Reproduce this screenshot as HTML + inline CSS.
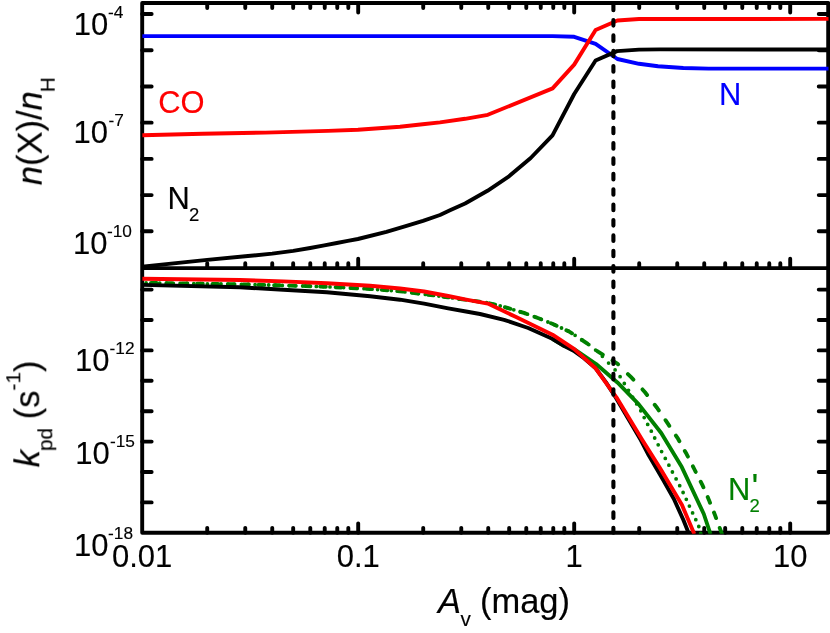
<!DOCTYPE html>
<html><head><meta charset="utf-8"><title>chart</title>
<style>html,body{margin:0;padding:0;background:#fff;}svg{display:block;}text{font-family:"Liberation Sans", sans-serif;}</style>
</head><body>
<svg width="830" height="633" viewBox="0 0 830 633">
<rect width="830" height="633" fill="#fff"/>
<defs>
<clipPath id="ct"><rect x="142.2" y="0" width="687.8" height="268.1"/></clipPath>
<clipPath id="cb"><rect x="142.2" y="268.1" width="687.8" height="265.5999999999999"/></clipPath>
</defs>
<path d="M207.22 3.05L207.22 8.00M207.22 268.10L207.22 263.15M207.22 532.80L207.22 527.85M245.26 3.05L245.26 8.00M245.26 268.10L245.26 263.15M245.26 532.80L245.26 527.85M272.24 3.05L272.24 8.00M272.24 268.10L272.24 263.15M272.24 532.80L272.24 527.85M293.18 3.05L293.18 8.00M293.18 268.10L293.18 263.15M293.18 532.80L293.18 527.85M310.28 3.05L310.28 8.00M310.28 268.10L310.28 263.15M310.28 532.80L310.28 527.85M324.74 3.05L324.74 8.00M324.74 268.10L324.74 263.15M324.74 532.80L324.74 527.85M337.27 3.05L337.27 8.00M337.27 268.10L337.27 263.15M337.27 532.80L337.27 527.85M348.32 3.05L348.32 8.00M348.32 268.10L348.32 263.15M348.32 532.80L348.32 527.85M358.20 3.05L358.20 12.50M358.20 268.10L358.20 258.65M358.20 532.80L358.20 523.35M423.22 3.05L423.22 8.00M423.22 268.10L423.22 263.15M423.22 532.80L423.22 527.85M461.26 3.05L461.26 8.00M461.26 268.10L461.26 263.15M461.26 532.80L461.26 527.85M488.24 3.05L488.24 8.00M488.24 268.10L488.24 263.15M488.24 532.80L488.24 527.85M509.18 3.05L509.18 8.00M509.18 268.10L509.18 263.15M509.18 532.80L509.18 527.85M526.28 3.05L526.28 8.00M526.28 268.10L526.28 263.15M526.28 532.80L526.28 527.85M540.74 3.05L540.74 8.00M540.74 268.10L540.74 263.15M540.74 532.80L540.74 527.85M553.27 3.05L553.27 8.00M553.27 268.10L553.27 263.15M553.27 532.80L553.27 527.85M564.32 3.05L564.32 8.00M564.32 268.10L564.32 263.15M564.32 532.80L564.32 527.85M574.20 3.05L574.20 12.50M574.20 268.10L574.20 258.65M574.20 532.80L574.20 523.35M639.22 3.05L639.22 8.00M639.22 268.10L639.22 263.15M639.22 532.80L639.22 527.85M677.26 3.05L677.26 8.00M677.26 268.10L677.26 263.15M677.26 532.80L677.26 527.85M704.24 3.05L704.24 8.00M704.24 268.10L704.24 263.15M704.24 532.80L704.24 527.85M725.18 3.05L725.18 8.00M725.18 268.10L725.18 263.15M725.18 532.80L725.18 527.85M742.28 3.05L742.28 8.00M742.28 268.10L742.28 263.15M742.28 532.80L742.28 527.85M756.74 3.05L756.74 8.00M756.74 268.10L756.74 263.15M756.74 532.80L756.74 527.85M769.27 3.05L769.27 8.00M769.27 268.10L769.27 263.15M769.27 532.80L769.27 527.85M780.32 3.05L780.32 8.00M780.32 268.10L780.32 263.15M780.32 532.80L780.32 527.85M790.20 3.05L790.20 12.50M790.20 268.10L790.20 258.65M790.20 532.80L790.20 523.35M142.20 14.00L151.65 14.00M828.20 14.00L818.75 14.00M142.20 50.22L151.65 50.22M828.20 50.22L818.75 50.22M142.20 86.44L151.65 86.44M828.20 86.44L818.75 86.44M142.20 122.66L151.65 122.66M828.20 122.66L818.75 122.66M142.20 158.88L151.65 158.88M828.20 158.88L818.75 158.88M142.20 195.10L151.65 195.10M828.20 195.10L818.75 195.10M142.20 231.32L151.65 231.32M828.20 231.32L818.75 231.32M142.20 502.40L151.65 502.40M828.20 502.40L818.75 502.40M142.20 472.00L151.65 472.00M828.20 472.00L818.75 472.00M142.20 441.60L151.65 441.60M828.20 441.60L818.75 441.60M142.20 411.20L151.65 411.20M828.20 411.20L818.75 411.20M142.20 380.80L151.65 380.80M828.20 380.80L818.75 380.80M142.20 350.40L151.65 350.40M828.20 350.40L818.75 350.40M142.20 320.00L151.65 320.00M828.20 320.00L818.75 320.00M142.20 289.60L151.65 289.60M828.20 289.60L818.75 289.60" stroke="#000" stroke-width="3.9" stroke-linecap="round" fill="none"/>
<rect x="142.2" y="3.05" width="686.0" height="529.75" fill="none" stroke="#000" stroke-width="3.9" stroke-linejoin="round"/>
<line x1="142.2" y1="268.1" x2="828.2" y2="268.1" stroke="#000" stroke-width="3.9"/>
<polyline points="142.2,36.1 552.6,36.1 574.2,36.8 595.6,43.9 617.4,59.0 639.0,63.8 658.0,66.3 683.3,68.0 708.6,68.6 828.5,68.6" fill="none" stroke="#0000ff" stroke-width="3.9" stroke-linejoin="round" clip-path="url(#ct)" />
<polyline points="142.2,266.6 207.2,259.9 245.3,256.3 272.2,253.6 293.2,250.9 310.2,248.0 324.3,245.3 336.8,243.0 347.8,240.9 357.9,239.0 386.4,231.8 405.7,226.2 423.0,220.8 440.0,215.0 450.0,210.3 465.1,203.5 487.5,190.8 509.0,176.3 530.7,158.0 552.5,135.3 574.2,94.0 595.6,60.5 617.0,51.1 639.0,49.6 660.0,49.4 828.5,49.5" fill="none" stroke="#000" stroke-width="3.9" stroke-linejoin="round" clip-path="url(#ct)" />
<polyline points="142.2,135.2 202.7,133.8 265.3,132.6 328.0,130.9 358.0,129.8 400.0,126.8 422.7,124.3 440.0,122.4 465.1,118.8 487.8,114.8 552.6,88.4 574.2,64.6 595.6,30.0 617.4,20.5 639.0,19.0 828.5,18.9" fill="none" stroke="#ff0000" stroke-width="3.9" stroke-linejoin="round" clip-path="url(#ct)" />
<path d="M151.0 282.9L156.6 283.0M166.4 283.2L172.0 283.3M181.8 283.4L187.4 283.5M197.2 283.6L202.8 283.7M212.5 283.9L218.1 284.0M227.9 284.1L233.5 284.2M243.3 284.4L248.9 284.5M258.7 284.8L264.3 284.9M274.1 285.2L279.7 285.3M289.5 285.6L295.1 285.7M304.8 286.0L310.4 286.2M320.2 286.5L325.8 286.7M335.6 287.2L341.2 287.5M351.0 288.0L356.6 288.3M366.4 288.8L370.1 289.0L372.0 289.1M381.8 289.9L387.4 290.3M397.2 291.1L400.0 291.3L402.8 291.6M412.5 292.8L418.1 293.5M427.9 294.7L433.5 295.4M443.3 296.7L448.0 297.3L448.9 297.4M458.7 298.8L464.3 299.6M474.1 300.9L479.7 301.7M489.5 303.3L495.1 304.7M504.9 307.2L508.3 308.1L510.5 308.8M520.2 311.8L524.0 312.9L525.8 313.6M535.6 317.2L537.8 318.0L541.2 319.3M551.0 323.2L552.3 323.7L556.6 325.7M566.4 330.3L569.2 331.6L572.0 333.3M581.8 339.8L587.4 343.7M597.2 351.1L602.8 354.6M612.5 360.6L617.4 363.6L618.1 364.3M627.9 374.1L631.1 377.2L633.4 379.6M642.5 389.4L645.0 392.3L647.1 395.0M654.7 404.8L657.2 408.0L658.8 410.4M665.5 420.2L667.7 423.4L669.3 425.8M675.9 435.6L678.0 438.7L679.4 441.2M684.8 451.0L686.6 454.1L687.9 456.6M692.9 466.3L694.5 469.5L695.7 471.9M700.7 481.7L702.3 484.8L703.4 487.3M707.7 497.1L708.9 499.9L710.0 502.7M714.0 512.5L715.2 515.6L716.1 518.1M719.7 527.9L721.8 533.5" fill="none" stroke="#008000" stroke-width="3.9" stroke-linecap="round" stroke-linejoin="round" clip-path="url(#cb)"/>
<path d="M146.1 282.9L146.1 282.9M152.9 283.0L152.9 283.0M159.7 283.1L159.7 283.1M166.5 283.2L166.5 283.2M173.3 283.3L173.3 283.3M180.1 283.4L180.2 283.4M187.0 283.5L187.0 283.5M193.8 283.6L193.8 283.6M200.6 283.7L200.6 283.7M207.4 283.8L207.4 283.8M214.2 283.9L214.2 283.9M221.0 284.0L221.0 284.0M227.8 284.1L227.8 284.1M234.6 284.2L234.6 284.2M241.4 284.3L241.4 284.3M248.2 284.5L248.3 284.5M255.1 284.7L255.1 284.7M261.9 284.9L261.9 284.9M268.7 285.0L268.7 285.0M275.5 285.2L275.5 285.2M282.3 285.4L282.3 285.4M289.1 285.6L289.1 285.6M295.9 285.8L295.9 285.8M302.7 286.0L302.7 286.0M309.5 286.2L309.5 286.2M316.3 286.4L316.4 286.4M323.2 286.6L323.2 286.6M330.0 286.9L330.0 286.9M336.8 287.2L336.8 287.2M343.6 287.6L343.6 287.6M350.4 288.0L350.4 288.0M357.2 288.3L357.2 288.3M364.0 288.7L364.0 288.7M370.8 289.1L370.8 289.1M377.6 289.6L377.6 289.6M384.4 290.1L384.5 290.1M391.3 290.6L391.3 290.6M398.1 291.2L398.1 291.2M404.9 291.9L404.9 291.9M411.7 292.7L411.7 292.7M418.5 293.5L418.5 293.5M425.3 294.4L425.3 294.4M432.1 295.2L432.1 295.2M438.9 296.1L438.9 296.1M445.7 297.0L445.7 297.0M452.5 297.9L452.6 297.9M459.4 298.9L459.4 298.9M466.2 299.8L466.2 299.8M473.0 300.8L473.0 300.8M479.8 301.8L479.8 301.8M486.6 302.7L486.6 302.7M493.4 304.3L493.4 304.3M500.2 306.0L500.2 306.1M507.0 307.8L507.0 307.8M513.8 309.8L513.8 309.8M520.6 311.9L520.7 311.9M527.5 314.2L527.5 314.2M534.3 316.7L534.3 316.7M541.1 319.3L541.1 319.3M547.9 322.0L547.9 322.0M554.7 324.8L554.7 324.8M561.5 328.0L561.5 328.0M568.3 331.2L568.3 331.2M575.1 335.3L575.1 335.3M581.9 339.9L581.9 339.9M588.7 344.6L588.8 344.6M595.6 350.1L595.6 350.1M602.4 356.3L602.4 356.3M608.6 363.1L608.6 363.1M615.1 369.9L615.1 369.9M620.1 376.7L620.1 376.7M624.3 383.5L624.3 383.5M628.4 390.3L628.5 390.3M632.6 397.1L632.6 397.1M636.7 403.9L636.7 403.9M640.8 410.7L640.8 410.8M644.2 417.6L644.2 417.6M647.7 424.4L647.7 424.4M651.3 431.2L651.3 431.2M654.7 438.0L654.7 438.0M658.2 444.8L658.2 444.8M661.6 451.6L661.6 451.6M665.3 458.4L665.3 458.4M668.9 465.2L668.9 465.2M672.4 472.0L672.4 472.0M676.1 478.8L676.1 478.9M679.7 485.7L679.7 485.7M683.1 492.5L683.1 492.5M686.3 499.3L686.3 499.3M689.4 506.1L689.4 506.1M692.6 512.9L692.6 512.9M695.8 519.7L695.8 519.7M698.8 526.5L698.8 526.5M700.7 533.3L700.7 533.3" fill="none" stroke="#008000" stroke-width="3.783" stroke-linecap="round" stroke-linejoin="round" clip-path="url(#cb)"/>
<polyline points="552.3,338.8 564.3,346.0 574.5,349.3 596.1,364.0 617.4,382.4 638.6,404.1 661.2,433.0 681.8,467.1 703.8,514.0 710.5,534.0" fill="none" stroke="#008000" stroke-width="3.9" stroke-linejoin="round" clip-path="url(#cb)" />
<polyline points="142.2,284.9 240.0,287.3 283.4,289.7 326.8,292.3 370.1,296.2 400.0,299.7 424.1,303.6 448.2,308.3 466.0,311.5 480.0,314.0 504.1,319.8 528.2,328.0 552.3,338.8 564.3,346.0 573.5,350.7 584.0,358.2 595.7,368.4 606.0,382.4 616.2,398.2 640.8,440.0 648.6,455.0 656.5,468.5 663.2,480.0 673.9,499.0 683.4,520.0 689.0,534.0" fill="none" stroke="#000" stroke-width="3.9" stroke-linejoin="round" clip-path="url(#cb)" />
<polyline points="142.2,278.8 240.0,280.0 283.4,281.4 326.8,283.2 370.1,285.8 400.0,288.5 424.1,291.5 448.2,296.0 466.3,299.6 487.8,303.6 516.1,317.1 552.5,334.7 574.0,348.9 595.6,368.3 616.6,397.6 642.0,439.5 659.8,467.8 682.0,505.1 694.3,534.0" fill="none" stroke="#ff0000" stroke-width="3.9" stroke-linejoin="round" clip-path="url(#cb)" />
<path d="M613.4 4.6L613.4 10.2M613.4 20.0L613.4 25.6M613.4 35.4L613.4 41.0M613.4 50.7L613.4 56.3M613.4 66.1L613.4 71.7M613.4 81.5L613.4 87.1M613.4 96.9L613.4 102.5M613.4 112.3L613.4 117.9M613.4 127.7L613.4 133.3M613.4 143.1L613.4 148.7M613.4 158.4L613.4 164.0M613.4 173.8L613.4 179.4M613.4 189.2L613.4 194.8M613.4 204.6L613.4 210.2M613.4 220.0L613.4 225.6M613.4 235.4L613.4 241.0M613.4 250.7L613.4 256.3M613.4 266.1L613.4 271.7M613.4 281.5L613.4 287.1M613.4 296.9L613.4 302.5M613.4 312.3L613.4 317.9M613.4 327.7L613.4 333.3M613.4 343.1L613.4 348.7M613.4 358.4L613.4 364.0M613.4 373.8L613.4 379.4M613.4 389.2L613.4 394.8M613.4 404.6L613.4 410.2M613.4 420.0L613.4 425.6M613.4 435.4L613.4 441.0M613.4 450.8L613.4 456.4M613.4 466.1L613.4 471.7M613.4 481.5L613.4 487.1M613.4 496.9L613.4 502.5M613.4 512.3L613.4 517.9M613.4 527.7L613.4 532.8" fill="none" stroke="#000" stroke-width="4.1" stroke-linecap="round"/>
<g font-family='"Liberation Sans", sans-serif' fill="#000" stroke="#000" stroke-width="0.15" opacity="0.999">
<text x="108.3" y="35.0" font-size="31.0" text-anchor="end">10</text>
<text x="108.0" y="18.1" font-size="17.3">-4</text>
<text x="108.0" y="142.5" font-size="31.0" text-anchor="end">10</text>
<text x="108.6" y="125.6" font-size="17.3">-7</text>
<text x="107.5" y="254.1" font-size="31.0" text-anchor="end">10</text>
<text x="106.9" y="236.9" font-size="17.3">-10</text>
<text x="109.6" y="371.0" font-size="31.0" text-anchor="end">10</text>
<text x="109.6" y="354.3" font-size="17.3">-12</text>
<text x="109.8" y="464.1" font-size="31.0" text-anchor="end">10</text>
<text x="110.0" y="447.1" font-size="17.3">-15</text>
<text x="108.5" y="555.6" font-size="31.0" text-anchor="end">10</text>
<text x="108.1" y="539.0" font-size="17.3">-18</text>
<text x="142.2" y="566.9" font-size="31.0" text-anchor="middle">0.01</text>
<text x="358.2" y="566.9" font-size="31.0" text-anchor="middle">0.1</text>
<text x="574.2" y="566.9" font-size="31.0" text-anchor="middle">1</text>
<text x="790.2" y="566.9" font-size="31.0" text-anchor="middle">10</text>
<text x="158.3" y="112.9" font-size="30.9" fill="#ff0000" stroke="#ff0000">CO</text>
<text x="167.4" y="209.2" font-size="30.9">N</text>
<text x="189.0" y="221.0" font-size="18.5">2</text>
<text x="719.0" y="104.8" font-size="30.9" fill="#0000ff" stroke="#0000ff">N</text>
<g fill="#008000" stroke="#008000">
<text x="728.0" y="500.1" font-size="30.9">N</text>
<text x="749.5" y="511.9" font-size="18.5">2</text>
<text x="751.5" y="499.9" font-size="36">'</text>
</g>
<text x="438.0" y="613.3" font-size="34.5"><tspan font-style="italic">A</tspan><tspan font-size="20.7" dy="12.7" dx="-0.5">v</tspan><tspan dy="-12.7" dx="-0.5"> (mag)</tspan></text>
<text transform="translate(41.7,185.2) rotate(-90)" font-size="34.5"><tspan font-style="italic">n</tspan>(X)/<tspan font-style="italic">n</tspan><tspan font-size="20.7" dy="13" dx="-1">H</tspan></text>
<text transform="translate(39.3,467.3) rotate(-90)" font-size="34.5"><tspan font-style="italic">k</tspan><tspan font-size="20.7" dy="13" dx="-1">pd</tspan><tspan dy="-13" dx="-0.8"> (s</tspan><tspan font-size="20.7" dy="-19">-1</tspan><tspan dy="19">)</tspan></text>
</g>
</svg>
</body></html>
